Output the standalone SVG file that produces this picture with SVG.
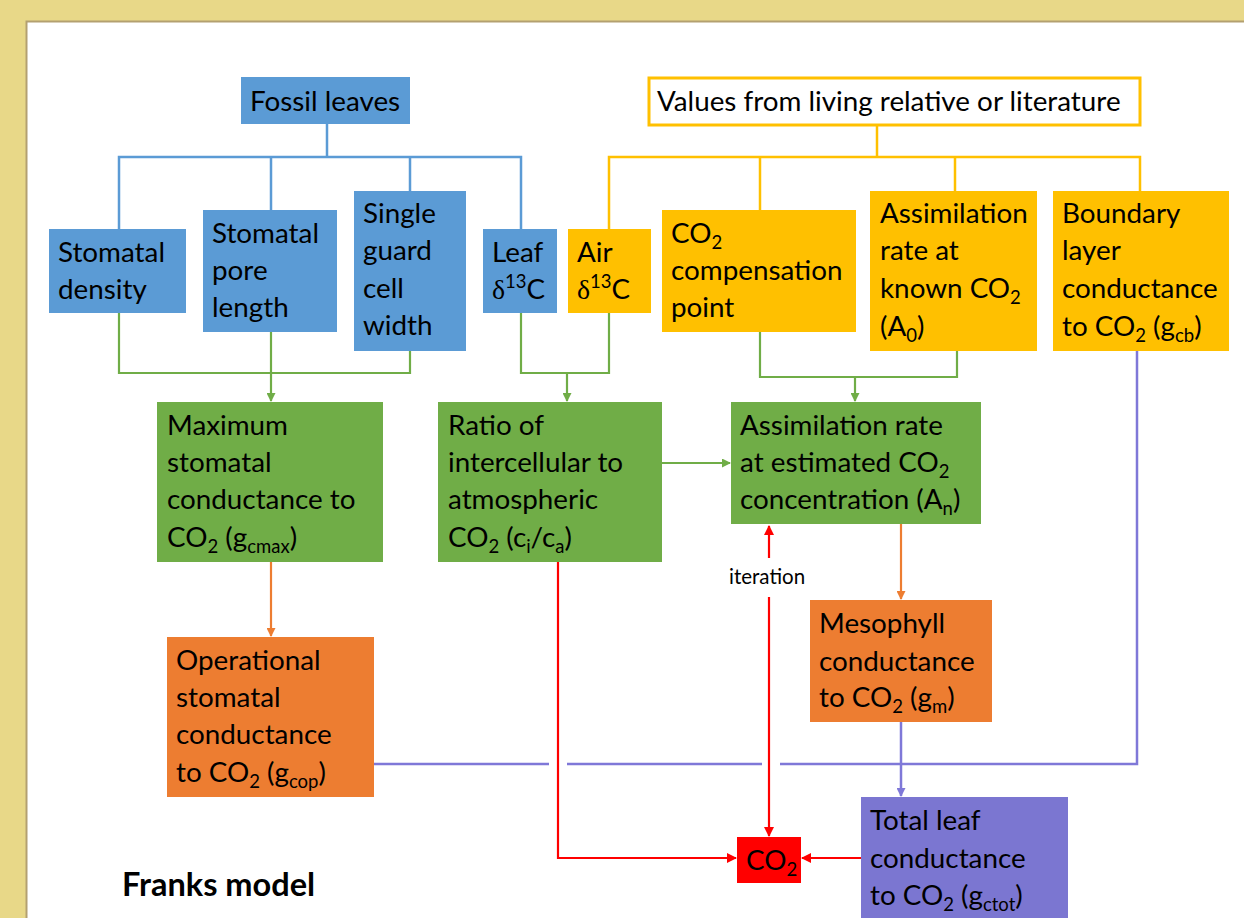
<svg xmlns="http://www.w3.org/2000/svg" width="1244" height="918" viewBox="0 0 1244 918">
<style>
.t{font-family:Lato,"Liberation Sans",sans-serif;font-size:27.8px;fill:#000}
.s{font-size:18.5px}
.blue{fill:#5B9BD5}
.yel{fill:#FFC000}
.grn{fill:#70AD47}
.org{fill:#ED7D31}
.pur{fill:#7B76D1}
.red{fill:#FF0000}
.lb{fill:none;stroke:#5B9BD5;stroke-width:2.5}
.ly{fill:none;stroke:#FFC000;stroke-width:2.5}
.lg{fill:none;stroke:#70AD47;stroke-width:2.2}
.lo{fill:none;stroke:#ED7D31;stroke-width:2.2}
.lp{fill:none;stroke:#7F78D8;stroke-width:2.5}
.lr{fill:none;stroke:#FF0000;stroke-width:2.2}
</style>
<defs>
<marker id="ag" markerUnits="userSpaceOnUse" markerWidth="9" markerHeight="9" refX="8" refY="4.5" orient="auto"><path d="M0,0 L9,4.5 L0,9 z" fill="#70AD47"/></marker>
<marker id="ao" markerUnits="userSpaceOnUse" markerWidth="9" markerHeight="9" refX="8" refY="4.5" orient="auto"><path d="M0,0 L9,4.5 L0,9 z" fill="#ED7D31"/></marker>
<marker id="ap" markerUnits="userSpaceOnUse" markerWidth="9" markerHeight="9" refX="8" refY="4.5" orient="auto"><path d="M0,0 L9,4.5 L0,9 z" fill="#7F78D8"/></marker>
<marker id="ar" markerUnits="userSpaceOnUse" markerWidth="10" markerHeight="10" refX="9" refY="5" orient="auto"><path d="M0,0 L10,5 L0,10 z" fill="#FF0000"/></marker>
</defs>
<rect x="0" y="0" width="1244" height="918" fill="#E8D888"/>
<rect x="27" y="21" width="1217" height="897" fill="#FFFFFF"/>
<path d="M26.5,918 V21.5 H1244" fill="none" stroke="#B3A070" stroke-width="2"/>

<g id="connectors">
<path class="lb" d="M327,124 V157"/>
<path class="lb" d="M119,229 V157 H521 V229"/>
<path class="lb" d="M271,157 V210"/>
<path class="lb" d="M410,157 V191"/>
<path class="ly" d="M877,125 V157"/>
<path class="ly" d="M609,229 V157 H1140 V191"/>
<path class="ly" d="M760,157 V210"/>
<path class="ly" d="M955,157 V191"/>
<path class="lg" d="M119,313 V373 H410 V351"/>
<path class="lg" d="M271,332 V401" marker-end="url(#ag)"/>
<path class="lg" d="M521,313 V373 H609 V313"/>
<path class="lg" d="M567,373 V401" marker-end="url(#ag)"/>
<path class="lg" d="M760,332 V377 H957 V351"/>
<path class="lg" d="M855,377 V401" marker-end="url(#ag)"/>
<path class="lg" d="M662,463 H730" marker-end="url(#ag)"/>
<path class="lo" d="M271,562 V636" marker-end="url(#ao)"/>
<path class="lo" d="M901,524 V599" marker-end="url(#ao)"/>
<path class="lp" d="M374,764 H549 M567,764 H762 M780,764 H1137 V351"/>
<path class="lp" d="M901,722 V796" marker-end="url(#ap)"/>
<path class="lr" d="M558,562 V858 H736" marker-end="url(#ar)"/>
<path class="lr" d="M769,558 V526" marker-end="url(#ar)"/>
<path class="lr" d="M769,597 V836" marker-end="url(#ar)"/>
<path class="lr" d="M861,858 H802" marker-end="url(#ar)"/>
<text class="t" x="729" y="584" style="font-size:20.5px">iteration</text>
</g>

<g id="fossil"><rect class="blue" x="241" y="77" width="169" height="47"/><text class="t" x="250" y="111">Fossil leaves</text></g>
<g id="values"><rect x="649" y="78" width="491" height="47" fill="#FFFFFF" stroke="#FFC000" stroke-width="3"/><text class="t" x="657" y="111">Values from living relative or literature</text></g>

<g id="density"><rect class="blue" x="49" y="229" width="137" height="84"/><text class="t" x="58" y="262">Stomatal</text><text class="t" x="58" y="299">density</text></g>
<g id="pore"><rect class="blue" x="203" y="210" width="134" height="122"/><text class="t" x="212" y="243">Stomatal</text><text class="t" x="212" y="280">pore</text><text class="t" x="212" y="317">length</text></g>
<g id="guard"><rect class="blue" x="354" y="191" width="112" height="160"/><text class="t" x="363" y="223">Single</text><text class="t" x="363" y="260">guard</text><text class="t" x="363" y="298">cell</text><text class="t" x="363" y="335">width</text></g>
<g id="leafd13c"><rect class="blue" x="483" y="229" width="74" height="84"/><text class="t" x="492" y="262">Leaf</text><text class="t" x="492" y="299"><tspan font-family="Liberation Serif">δ</tspan><tspan class="s" dy="-11">13</tspan><tspan dy="11">C</tspan></text></g>
<g id="aird13c"><rect class="yel" x="568" y="229" width="83" height="84"/><text class="t" x="577" y="262">Air</text><text class="t" x="577" y="299"><tspan font-family="Liberation Serif">δ</tspan><tspan class="s" dy="-11">13</tspan><tspan dy="11">C</tspan></text></g>
<g id="compensation"><rect class="yel" x="662" y="210" width="194" height="122"/><text class="t" x="671" y="243">CO<tspan class="s" dy="6">2</tspan></text><text class="t" x="671" y="280">compensation</text><text class="t" x="671" y="317">point</text></g>
<g id="assimknown"><rect class="yel" x="870" y="191" width="167" height="160"/><text class="t" x="880" y="223">Assimilation</text><text class="t" x="880" y="260">rate at</text><text class="t" x="880" y="298">known CO<tspan class="s" dy="6">2</tspan></text><text class="t" x="880" y="336">(A<tspan class="s" dy="6">0</tspan><tspan dy="-6">)</tspan></text></g>
<g id="boundary"><rect class="yel" x="1053" y="191" width="176" height="160"/><text class="t" x="1062" y="223">Boundary</text><text class="t" x="1062" y="260">layer</text><text class="t" x="1062" y="298">conductance</text><text class="t" x="1062" y="336">to CO<tspan class="s" dy="6">2</tspan><tspan dy="-6"> (g</tspan><tspan class="s" dy="6">cb</tspan><tspan dy="-6">)</tspan></text></g>

<g id="gcmax"><rect class="grn" x="157" y="402" width="226" height="160"/><text class="t" x="167" y="435">Maximum</text><text class="t" x="167" y="472">stomatal</text><text class="t" x="167" y="509">conductance to</text><text class="t" x="167" y="547">CO<tspan class="s" dy="6">2</tspan><tspan dy="-6"> (g</tspan><tspan class="s" dy="6">cmax</tspan><tspan dy="-6">)</tspan></text></g>
<g id="ratio"><rect class="grn" x="438" y="402" width="224" height="160"/><text class="t" x="448" y="435">Ratio of</text><text class="t" x="448" y="472">intercellular to</text><text class="t" x="448" y="509">atmospheric</text><text class="t" x="448" y="547">CO<tspan class="s" dy="6">2</tspan><tspan dy="-6"> (c</tspan><tspan class="s" dy="6">i</tspan><tspan dy="-6">/c</tspan><tspan class="s" dy="6">a</tspan><tspan dy="-6">)</tspan></text></g>
<g id="assimest"><rect class="grn" x="731" y="402" width="250" height="122"/><text class="t" x="740" y="435">Assimilation rate</text><text class="t" x="740" y="472">at estimated CO<tspan class="s" dy="6">2</tspan></text><text class="t" x="740" y="509">concentration (A<tspan class="s" dy="6">n</tspan><tspan dy="-6">)</tspan></text></g>

<g id="gcop"><rect class="org" x="167" y="637" width="207" height="160"/><text class="t" x="176" y="670">Operational</text><text class="t" x="176" y="707">stomatal</text><text class="t" x="176" y="744">conductance</text><text class="t" x="176" y="782">to CO<tspan class="s" dy="6">2</tspan><tspan dy="-6"> (g</tspan><tspan class="s" dy="6">cop</tspan><tspan dy="-6">)</tspan></text></g>
<g id="mesophyll"><rect class="org" x="810" y="600" width="182" height="122"/><text class="t" x="819" y="633">Mesophyll</text><text class="t" x="819" y="671">conductance</text><text class="t" x="819" y="707">to CO<tspan class="s" dy="6">2</tspan><tspan dy="-6"> (g</tspan><tspan class="s" dy="6">m</tspan><tspan dy="-6">)</tspan></text></g>
<g id="gctot"><rect class="pur" x="861" y="797" width="207" height="130"/><text class="t" x="870" y="830">Total leaf</text><text class="t" x="870" y="868">conductance</text><text class="t" x="870" y="905">to CO<tspan class="s" dy="6">2</tspan><tspan dy="-6"> (g</tspan><tspan class="s" dy="6">ctot</tspan><tspan dy="-6">)</tspan></text></g>
<g id="co2"><rect class="red" x="737" y="837" width="64" height="46"/><text class="t" x="746" y="870">CO<tspan class="s" dy="6">2</tspan></text></g>

<g id="title"><text class="t" x="122" y="896" style="font-weight:bold;font-size:32.5px">Franks model</text></g>
</svg>
